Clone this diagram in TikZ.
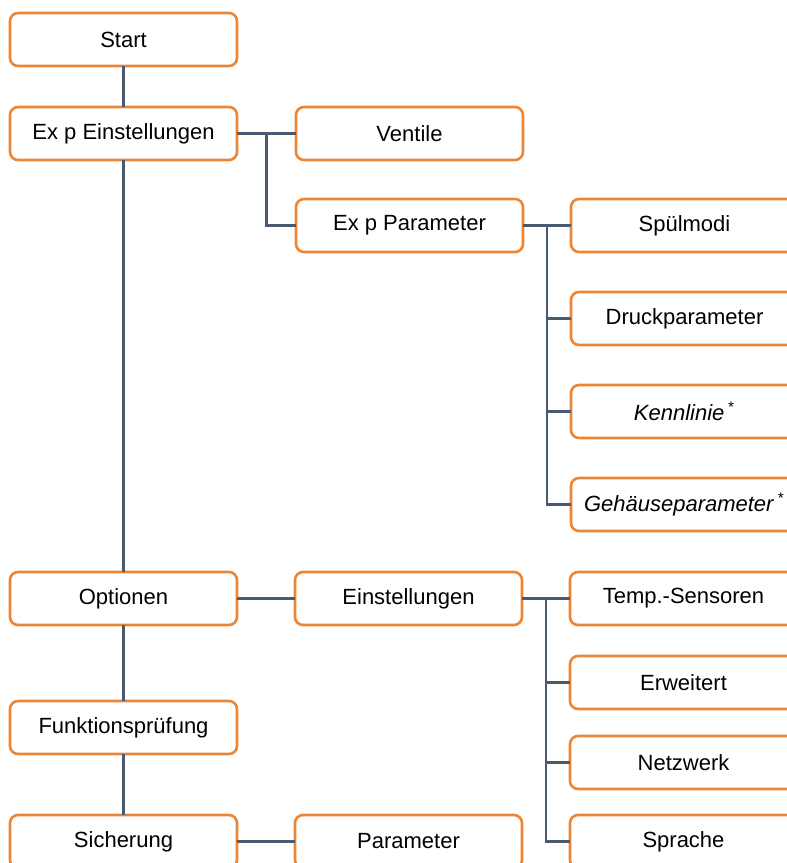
\documentclass[tikz,border=0pt]{standalone}
\usepackage{fontspec}
\setmainfont{Liberation Sans}
\usetikzlibrary{positioning,calc}
\definecolor{boxorange}{HTML}{EE8533}
\definecolor{linkslate}{HTML}{4A5A6F}

\begin{document}
\begin{tikzpicture}[
  x=0.5pt, y=-0.5pt,
  font=\fontsize{11}{13}\selectfont,
  node distance=20pt and 29.5pt,
  box/.style={draw=boxorange, line width=1.3pt, rounded corners=4pt, fill=white, align=center, minimum width=113.5pt, minimum height=26.5pt, inner sep=2pt, outer sep=0pt},
  line/.style={draw=linkslate, line width=1.25pt}
]
\useasboundingbox (0,0) rectangle (787,863);
\clip (0,0) rectangle (787,863);

% Main column (top to bottom)
\node[box] (start) at (123.5,39.5) {Start};
\node[box, below=20.5pt of start] (expe) {Ex p Einstellungen};
\node[box, below=206pt of expe] (opt) {Optionen};
\node[box, below=38pt of opt] (funk) {Funktionsprüfung};
\node[box, below=30.5pt of funk] (sich) {Sicherung};

% Ex p branch
\node[box, right=29.5pt of expe] (ventile) {Ventile};
\node[box, below=19.5pt of ventile] (expp) {Ex p Parameter};
\node[box, right=24pt of expp] (spuel) {Spülmodi};
\node[box, below=20pt of spuel] (druck) {Druckparameter};
\node[box, below=20pt of druck] (kenn) {\textit{Kennlinie}\,\textsuperscript{*}};
\node[box, below=20pt of kenn] (gehaeuse) {\textit{Gehäuseparameter}\,\textsuperscript{*}};

% Options branch
\node[box, right=29pt of opt] (einst) {Einstellungen};
\node[box, right=24pt of einst] (temp) {Temp.-Sensoren};
\node[box, below=15.5pt of temp] (erw) {Erweitert};
\node[box, below=13.5pt of erw] (netz) {Netzwerk};
\node[box, below=13pt of netz] (sprache) {Sprache};

% Backup branch
\node[box, right=29pt of sich] (param) {Parameter};

% Main trunk
\draw[line] (start) -- (expe);
\draw[line] (expe) -- (opt);
\draw[line] (opt) -- (funk);
\draw[line] (funk) -- (sich);

% Ex p Einstellungen fork
\coordinate (forkA) at ($(expe.east)!0.5!(ventile.west)$);
\draw[line] (expe) -- (ventile);
\draw[line] (forkA) |- (expp);

% Ex p Parameter fork
\coordinate (forkB) at ($(expp.east)!0.5!(spuel.west)$);
\draw[line] (expp) -- (spuel);
\draw[line] (forkB) |- (gehaeuse);
\draw[line] (forkB |- druck) -- (druck);
\draw[line] (forkB |- kenn) -- (kenn);

% Einstellungen fork
\coordinate (forkC) at ($(einst.east)!0.5!(temp.west)$);
\draw[line] (opt) -- (einst);
\draw[line] (einst) -- (temp);
\draw[line] (forkC) |- (sprache);
\draw[line] (forkC |- erw) -- (erw);
\draw[line] (forkC |- netz) -- (netz);

% Sicherung
\draw[line] (sich) -- (param);

\end{tikzpicture}
\end{document}
